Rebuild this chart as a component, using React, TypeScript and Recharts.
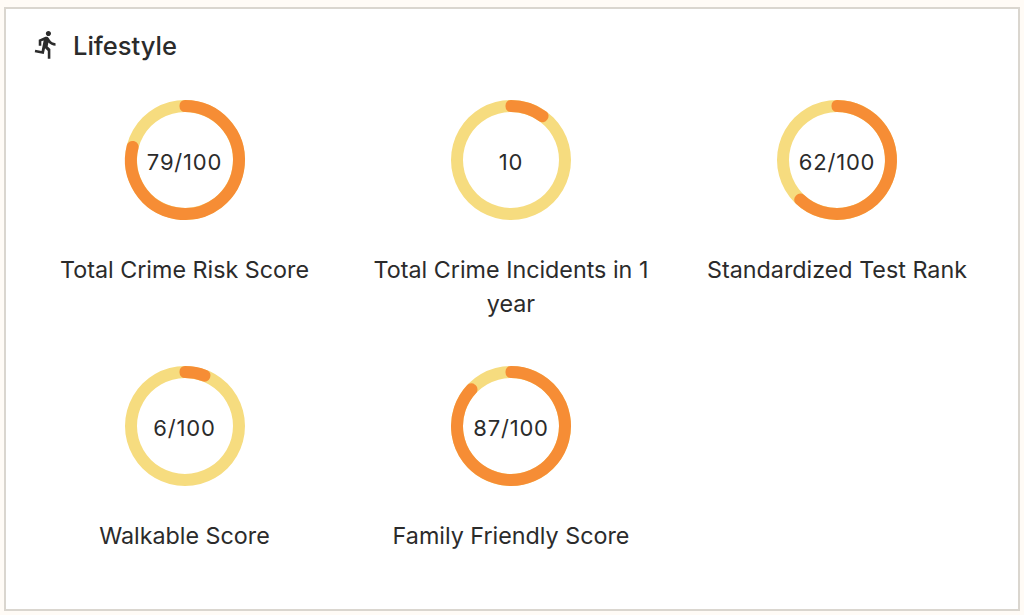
import { PieChart, Pie, Cell } from "recharts";

const titles = [
  "Total Crime Risk Score",
  "Total Crime Incidents in 1 year",
  "Standardized Test Rank",
  "Walkable Score",
  "Family Friendly Score",
];
const scores = [79, 10, 62, 6, 87];
const scoreLabels = ["79/100", "10", "62/100", "6/100", "87/100"];
const MAX_SCORE = 100;

const ORANGE = "#F68D35";
const YELLOW = "#F6DC7F";
const TEXT = "#2b2b2b";
const FONT = "Inter, sans-serif";

const columns = [184.5, 511, 837];
const rows = [160, 426];

function ScoreTile({ title, score, label, x, y }: { title: string; score: number; label: string; x: number; y: number }) {
  const data = [{ value: score }, { value: MAX_SCORE - score }];
  return (
    <div style={{ position: "absolute", left: x - 155, top: y - 70, width: 310, textAlign: "center" }}>
      <div style={{ position: "relative", width: 140, height: 140, margin: "0 auto" }}>
        <PieChart width={140} height={140} margin={{ top: 0, right: 0, bottom: 0, left: 0 }}>
          <Pie
            data={[{ value: 1 }]}
            dataKey="value"
            cx={70}
            cy={70}
            innerRadius={48}
            outerRadius={60}
            startAngle={90}
            endAngle={-270}
            stroke="none"
            fill={YELLOW}
            isAnimationActive={false}
          />
          {/* thin sector with a thick round-joined stroke gives the rounded ends */}
          <Pie
            data={data}
            dataKey="value"
            cx={70}
            cy={70}
            innerRadius={53.5}
            outerRadius={54.5}
            startAngle={90}
            endAngle={-270}
            strokeWidth={11}
            strokeLinejoin="round"
            isAnimationActive={false}
          >
            <Cell fill={ORANGE} stroke={ORANGE} />
            <Cell fill="none" stroke="none" />
          </Pie>
        </PieChart>
        <div
          style={{
            position: "absolute",
            left: 0,
            top: 2,
            width: 140,
            lineHeight: "140px",
            fontSize: 22,
            color: TEXT,
            letterSpacing: 0.8,
          }}
        >
          {label}
        </div>
      </div>
      <div style={{ marginTop: 23, fontSize: 23.3, lineHeight: "34px", color: TEXT }}>{title}</div>
    </div>
  );
}

export default function App() {
  return (
    <div style={{ position: "fixed", left: 0, top: 0, width: 1024, height: 615, background: "#FFFBF6", fontFamily: FONT }}>
      <div
        style={{
          position: "absolute",
          left: 4,
          top: 7,
          width: 1012,
          height: 600,
          background: "#fff",
          border: "2px solid #DAD6CF",
        }}
      />
      <svg style={{ position: "absolute", left: 31, top: 29 }} width={31} height={31} viewBox="0 0 24 24" fill={TEXT}>
        <path d="M13.49 5.48c1.1 0 2-.9 2-2s-.9-2-2-2-2 .9-2 2 .9 2 2 2zm-3.6 13.9l1-4.4 2.1 2v6h2v-7.5l-2.1-2 .6-3c1.3 1.5 3.3 2.5 5.5 2.5v-2c-1.9 0-3.5-1-4.3-2.4l-1-1.6c-.4-.6-1-1-1.7-1-.3 0-.5.1-.8.1l-5.2 2.2v4.7h2v-3.4l1.8-.7-1.6 8.1-4.9-1-.4 2 7 1.4z" />
      </svg>
      <div style={{ position: "absolute", left: 73, top: 29, fontSize: 25.5, lineHeight: "34px", fontWeight: 500, color: TEXT }}>
        Lifestyle
      </div>
      {titles.map((title, i) => (
        <ScoreTile
          key={title}
          title={title}
          score={scores[i]}
          label={scoreLabels[i]}
          x={columns[i % 3]}
          y={rows[Math.floor(i / 3)]}
        />
      ))}
    </div>
  );
}
